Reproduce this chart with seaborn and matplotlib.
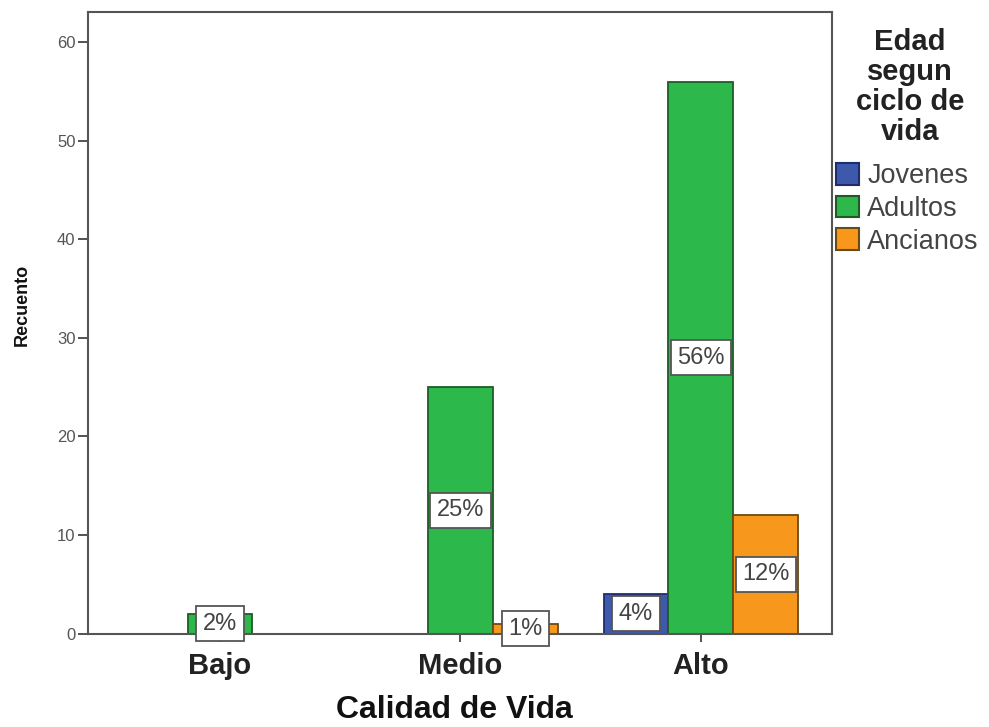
import matplotlib
matplotlib.use("Agg")
import matplotlib.pyplot as plt
from matplotlib.patches import Patch
import seaborn as sns
import pandas as pd

# ---- data ----
categories = ["Bajo", "Medio", "Alto"]
groups = ["Jovenes", "Adultos", "Ancianos"]
jovenes = [None, None, 4]
adultos = [2, 25, 56]
ancianos = [None, 1, 12]
colors = ["#3E58AC", "#2DB84B", "#F7981D"]
edge_colors = ["#1E2D6E", "#1F5A28", "#6B4A14"]
legend_title = "Edad\nsegun\nciclo de\nvida"
x_label = "Calidad de Vida"
y_label = "Recuento"
y_ticks = [0, 10, 20, 30, 40, 50, 60]

rows = []
for g, vals in zip(groups, [jovenes, adultos, ancianos]):
    for c, v in zip(categories, vals):
        if v is not None:
            rows.append({"Calidad de Vida": c, "Edad": g, "Recuento": v})
df = pd.DataFrame(rows)
total = df["Recuento"].sum()

sns.set_theme(style="white")
plt.rcParams["font.family"] = ["Liberation Sans", "DejaVu Sans"]

fig = plt.figure(figsize=(9.89, 7.27), dpi=100)
W, H = 989, 727
L, R, T, B = 88, 832, 11.7, 633.6
ax = fig.add_axes([L / W, 1 - B / H, (R - L) / W, (B - T) / H])

sns.barplot(data=df, x="Calidad de Vida", y="Recuento", hue="Edad",
            order=categories, hue_order=groups, palette=colors,
            width=0.81, dodge=True, saturation=1, errorbar=None,
            legend=False, ax=ax, linewidth=1.3, edgecolor="#333333")

for cont, ec in zip(ax.containers, edge_colors):
    for p in cont:
        p.set_edgecolor(ec)
    labels = [f"{v / total * 100:.0f}%" for v in cont.datavalues]
    ax.bar_label(cont, labels=labels, label_type="center", fontsize=17,
                 color="#444444",
                 bbox=dict(boxstyle="square,pad=0.28", facecolor="white",
                           edgecolor="#555555", linewidth=1.3))

ax.set_xlim(-0.549, 2.545)
ax.set_ylim(0, 63.1)
ax.set_yticks(y_ticks)
ax.tick_params(axis="y", length=7, width=1.3, color="#444444", pad=2,
               labelsize=12, labelcolor="#555555", left=True)
ax.tick_params(axis="x", length=6, width=1.3, color="#444444", pad=7,
               labelsize=21, bottom=True)
for lbl in ax.get_xticklabels():
    lbl.set_fontweight("bold")
    lbl.set_color("#222222")

for s in ax.spines.values():
    s.set_visible(True)
    s.set_color("#555555")
    s.set_linewidth(1.5)

ax.set_xlabel(x_label, fontsize=23, fontweight="bold", color="#111111")
ax.xaxis.set_label_coords(0.493, (B - 710) / (B - T))
ax.xaxis.label.set_va("center")
ax.set_ylabel(y_label, fontsize=13, fontweight="bold", color="#111111")
ax.yaxis.set_label_coords((22 - L) / (R - L), (B - 305) / (B - T))
ax.yaxis.label.set_va("center")

fig.text(910 / W, 1 - 87 / H, legend_title, ha="center", va="center",
         fontsize=21, fontweight="bold", color="#222222",
         multialignment="center", linespacing=1.08)

handles = [Patch(facecolor=c, edgecolor=e, linewidth=1.5)
           for c, e in zip(colors, edge_colors)]
fig.legend(handles, groups, loc="upper left",
           bbox_to_anchor=(836 / W, 1 - 163 / H), frameon=False,
           fontsize=19.5, handlelength=0.85, handleheight=0.85,
           handletextpad=0.3, labelspacing=0.24, borderpad=0,
           borderaxespad=0, labelcolor="#444444")

fig.savefig("out.png", dpi=100)
